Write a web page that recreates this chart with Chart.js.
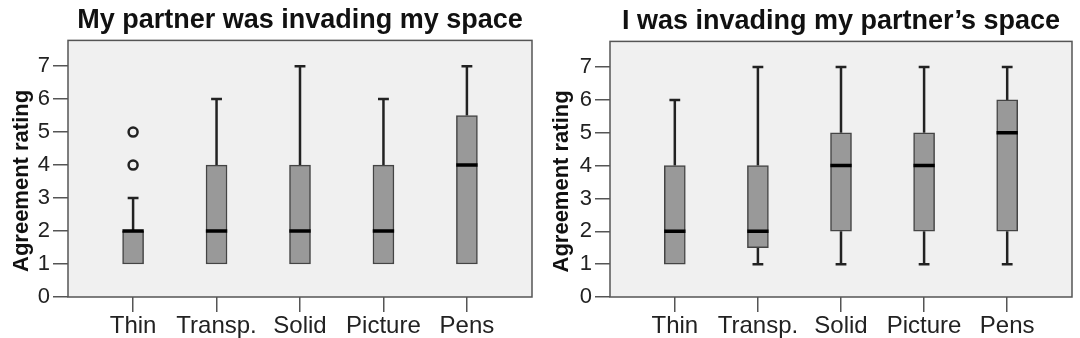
<!DOCTYPE html>
<html lang="en">
<head>
<meta charset="UTF-8">
<title>Agreement ratings</title>
<script src="https://cdn.jsdelivr.net/npm/chart.js"></script>
<style>
    body { margin: 0; background: #fff; }
    .wrap { display: flex; width: 1080px; height: 338px; }
    .panel { position: relative; width: 540px; height: 338px; }
</style>
</head>
<body>
<div class="wrap">
    <div class="panel"><canvas id="left"></canvas></div>
    <div class="panel"><canvas id="right"></canvas></div>
</div>
<script>
    const categories = ['Thin', 'Transp.', 'Solid', 'Picture', 'Pens'];
    const yTicks = [0, 1, 2, 3, 4, 5, 6, 7];

    // "My partner was invading my space"
    const partnerMin = [1, 1, 1, 1, 1];
    const partnerQ1 = [1, 1, 1, 1, 1];
    const partnerMedian = [2, 2, 2, 2, 4];
    const partnerQ3 = [2, 4, 4, 4, 5.5];
    const partnerMax = [3, 6, 7, 6, 7];
    const partnerOutliers = [[4, 5], [], [], [], []];

    // "I was invading my partner's space"
    const selfMin = [1, 1, 1, 1, 1];
    const selfQ1 = [1, 1.5, 2, 2, 2];
    const selfMedian = [2, 2, 4, 4, 5];
    const selfQ3 = [4, 4, 5, 5, 6];
    const selfMax = [6, 7, 7, 7, 7];
    const selfOutliers = [[], [], [], [], []];

    const FONT = '"Liberation Sans", Arial, Helvetica, sans-serif';
    const BOX_HALF = 0.128;   // half box width, x units
    const CAP_HALF = 0.065;   // half whisker cap width

    // plot background and frame
    const framePlugin = {
        id: 'frame',
        beforeDraw(chart) {
            const { ctx, chartArea: a } = chart;
            ctx.save();
            ctx.fillStyle = '#f0f0f0';
            ctx.fillRect(a.left, a.top, a.right - a.left, a.bottom - a.top);
            ctx.restore();
        },
        afterDatasetsDraw(chart) {
            const { ctx, chartArea: a } = chart;
            ctx.save();
            ctx.strokeStyle = '#555';
            ctx.lineWidth = 1.5;
            ctx.strokeRect(a.left, a.top, a.right - a.left, a.bottom - a.top);
            ctx.restore();
        }
    };

    function makeChart(id, title, min, q1, med, q3, max, outliers, area) {
        const boxes = [], whiskers = [], medians = [], points = [];
        categories.forEach((c, i) => {
            const x = i + 1;
            boxes.push({ x: x, y: [q1[i], q3[i]] });
            if (max[i] > q3[i]) {
                whiskers.push({ x: x, y: q3[i] }, { x: x, y: max[i] }, { x: x, y: null });
                whiskers.push({ x: x - CAP_HALF, y: max[i] }, { x: x + CAP_HALF, y: max[i] }, { x: x, y: null });
            }
            if (min[i] < q1[i]) {
                whiskers.push({ x: x, y: q1[i] }, { x: x, y: min[i] }, { x: x, y: null });
                whiskers.push({ x: x - CAP_HALF, y: min[i] }, { x: x + CAP_HALF, y: min[i] }, { x: x, y: null });
            }
            medians.push({ x: x - BOX_HALF, y: med[i] }, { x: x + BOX_HALF, y: med[i] }, { x: x, y: null });
            outliers[i].forEach(v => points.push({ x: x, y: v }));
        });

        return new Chart(document.getElementById(id), {
            type: 'bar',
            data: {
                datasets: [
                    {
                        type: 'line', data: medians, order: 0,
                        borderColor: '#000', borderWidth: 3.5, pointRadius: 0,
                        spanGaps: false, borderCapStyle: 'butt'
                    },
                    {
                        type: 'scatter', data: points, order: 0,
                        pointRadius: 4.5, borderWidth: 2.5,
                        borderColor: '#222', backgroundColor: '#f0f0f0'
                    },
                    {
                        type: 'bar', data: boxes, order: 1,
                        barThickness: 21, borderSkipped: false,
                        borderWidth: 1.5, borderColor: '#444', backgroundColor: '#999'
                    },
                    {
                        type: 'line', data: whiskers, order: 2,
                        borderColor: '#222', borderWidth: 2.5, pointRadius: 0,
                        spanGaps: false, borderCapStyle: 'butt'
                    }
                ]
            },
            options: {
                responsive: true,
                maintainAspectRatio: false,
                animation: false,
                layout: { padding: { left: 0, right: area.right, top: 0, bottom: 0 } },
                plugins: {
                    legend: { display: false },
                    tooltip: { enabled: false },
                    title: {
                        display: true,
                        text: title,
                        fullSize: false,
                        color: '#111',
                        font: { family: FONT, size: 27, weight: 'bold', lineHeight: 1.2 },
                        padding: { top: area.titleTop, bottom: 4 }
                    }
                },
                scales: {
                    x: {
                        type: 'linear',
                        min: 0.22,
                        max: 5.78,
                        offset: false,
                        afterBuildTicks: s => { s.ticks = categories.map((c, i) => ({ value: i + 1 })); },
                        afterFit: s => { s.height = 41; },
                        border: { display: false },
                        grid: { offset: false, drawOnChartArea: false, tickLength: 15, color: '#555', lineWidth: 1.5 },
                        ticks: {
                            padding: 0,
                            color: '#222',
                            font: { family: FONT, size: 24 },
                            callback: v => categories[v - 1]
                        }
                    },
                    y: {
                        min: 0,
                        max: 7.78,
                        afterBuildTicks: s => { s.ticks = yTicks.map(v => ({ value: v })); },
                        afterFit: s => { s.width = area.left; },
                        border: { display: false },
                        grid: { drawOnChartArea: false, tickLength: 15, color: '#555', lineWidth: 1.5 },
                        ticks: {
                            padding: 3,
                            color: '#222',
                            font: { family: FONT, size: 22 }
                        },
                        title: {
                            display: true,
                            // trailing spaces nudge the rotated label down a little
                            text: 'Agreement rating\u00a0\u00a0\u00a0\u00a0',
                            color: '#111',
                            font: { family: FONT, size: 22, weight: 'bold', lineHeight: 1.2 },
                            padding: { top: 9, bottom: 0 }
                        }
                    }
                }
            },
            plugins: [framePlugin]
        });
    }

    makeChart('left', 'My partner was invading my space',
        partnerMin, partnerQ1, partnerMedian, partnerQ3, partnerMax, partnerOutliers,
        { left: 68, right: 8, titleTop: 4 });
    makeChart('right', 'I was invading my partner\u2019s space',
        selfMin, selfQ1, selfMedian, selfQ3, selfMax, selfOutliers,
        { left: 70, right: 8, titleTop: 5 });
</script>
</body>
</html>
